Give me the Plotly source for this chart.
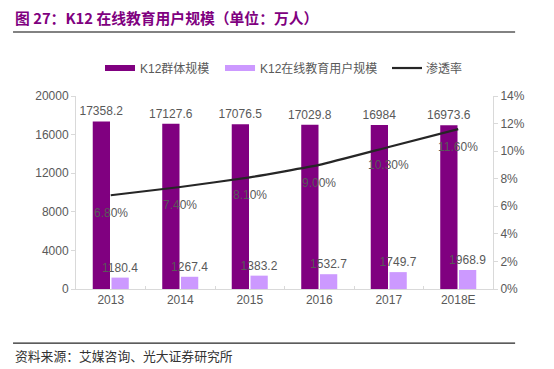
import plotly.graph_objects as go

years = ["2013", "2014", "2015", "2016", "2017", "2018E"]
k12_population = [17358.2, 17127.6, 17076.5, 17029.8, 16984, 16973.6]
k12_online_users = [1180.4, 1267.4, 1383.2, 1532.7, 1749.7, 1968.9]
penetration = [0.068, 0.074, 0.081, 0.090, 0.103, 0.116]
pop_labels = ["17358.2", "17127.6", "17076.5", "17029.8", "16984", "16973.6"]
user_labels = ["1180.4", "1267.4", "1383.2", "1532.7", "1749.7", "1968.9"]
pen_labels = ["6.80%", "7.40%", "8.10%", "9.00%", "10.30%", "11.60%"]
series_names = ["K12群体规模", "K12在线教育用户规模", "渗透率"]

FONT = "Liberation Sans, Arial, Noto Sans CJK SC, sans-serif"
CJK = "Noto Sans CJK SC, Liberation Sans, sans-serif"
TXT = "#595959"
DARK = "#800080"
LIGHT = "#CC99FF"
LINE = "#262626"

fig = go.Figure()
fig.add_trace(go.Bar(
    x=years, y=k12_population, name=series_names[0],
    marker=dict(color=DARK, line=dict(width=0)),
    text=pop_labels, textposition="outside", cliponaxis=False, constraintext="none",
    textfont=dict(size=12, color=TXT, family=FONT),
))
fig.add_trace(go.Bar(
    x=years, y=k12_online_users, name=series_names[1],
    marker=dict(color=LIGHT, line=dict(width=0)),
    text=user_labels, textposition="outside", cliponaxis=False, constraintext="none",
    textfont=dict(size=12, color=TXT, family=FONT),
))
fig.add_trace(go.Scatter(
    x=years, y=penetration, name=series_names[2], yaxis="y2",
    mode="lines", line=dict(color=LINE, width=2.2, shape="spline", smoothing=0.4),
    cliponaxis=False,
))

annotations = []
for i, (v, lab) in enumerate(zip(penetration, pen_labels)):
    annotations.append(dict(x=i, y=v, xref="x", yref="y2", text=lab, showarrow=False,
                            yshift=-18, font=dict(size=12, color=TXT, family=FONT)))

annotations += [
    dict(text="<b>图 27：K12 在线教育用户规模（单位：万人）</b>", xref="paper", yref="paper",
         x=-0.151, y=1.409, xanchor="left", yanchor="middle", showarrow=False,
         font=dict(size=14.8, color=DARK, family=CJK)),
    dict(text="资料来源：艾媒咨询、光大证券研究所", xref="paper", yref="paper",
         x=-0.151, y=-0.347, xanchor="left", yanchor="middle", showarrow=False,
         font=dict(size=12.8, color="#333333", family=CJK)),
    # custom legend texts
    dict(text=series_names[0], xref="paper", yref="paper", x=0.1487, y=1.145,
         xanchor="left", yanchor="middle", showarrow=False, font=dict(size=12, color=TXT, family=FONT)),
    dict(text=series_names[1], xref="paper", yref="paper", x=0.4365, y=1.145,
         xanchor="left", yanchor="middle", showarrow=False, font=dict(size=12, color=TXT, family=FONT)),
    dict(text=series_names[2], xref="paper", yref="paper", x=0.8345, y=1.145,
         xanchor="left", yanchor="middle", showarrow=False, font=dict(size=12, color=TXT, family=FONT)),
]

shapes = [
    dict(type="line", xref="paper", yref="paper", x0=-0.151, x1=1.053, y0=1.332, y1=1.332,
         line=dict(color="#595959", width=1.5)),
    dict(type="line", xref="paper", yref="paper", x0=-0.151, x1=1.053, y0=-0.28, y1=-0.28,
         line=dict(color="#262626", width=1.2)),
    # custom legend swatches
    dict(type="rect", xref="paper", yref="paper", x0=0.0695, x1=0.1415, y0=1.1295, y1=1.1606,
         fillcolor=DARK, line=dict(width=0)),
    dict(type="rect", xref="paper", yref="paper", x0=0.3573, x1=0.4293, y0=1.1295, y1=1.1606,
         fillcolor=LIGHT, line=dict(width=0)),
    dict(type="line", xref="paper", yref="paper", x0=0.7578, x1=0.8297, y0=1.145, y1=1.145,
         line=dict(color=LINE, width=2.2)),
]

fig.update_layout(
    width=554, height=369,
    margin=dict(l=76, r=61, t=96, b=80),
    paper_bgcolor="white", plot_bgcolor="white",
    font=dict(family=FONT, size=12, color=TXT),
    barmode="group", bargap=0.46, bargroupgap=0.08,
    showlegend=False,
    xaxis=dict(type="category", range=[-0.5, 5.5], showline=True, linecolor="#D9D9D9", linewidth=1,
               ticks="inside", ticklen=3, tickcolor="#D9D9D9", tickson="boundaries",
               showgrid=False, tickfont=dict(size=12, color=TXT)),
    yaxis=dict(range=[0, 20000], dtick=4000, tickformat="d", showline=True, linecolor="#D9D9D9",
               ticks="outside", ticklen=4, tickcolor="#D9D9D9", showgrid=False,
               zeroline=False, tickfont=dict(size=12, color=TXT)),
    yaxis2=dict(range=[0, 0.14], dtick=0.02, tickformat=".0%", overlaying="y", side="right",
                showline=True, linecolor="#D9D9D9", ticks="outside", ticklen=4,
                tickcolor="#D9D9D9", showgrid=False, zeroline=False,
                tickfont=dict(size=12, color=TXT)),
    annotations=annotations,
    shapes=shapes,
)

fig.write_html("out.html", config={"displayModeBar": False},
               post_script="document.body.style.margin='0';")
